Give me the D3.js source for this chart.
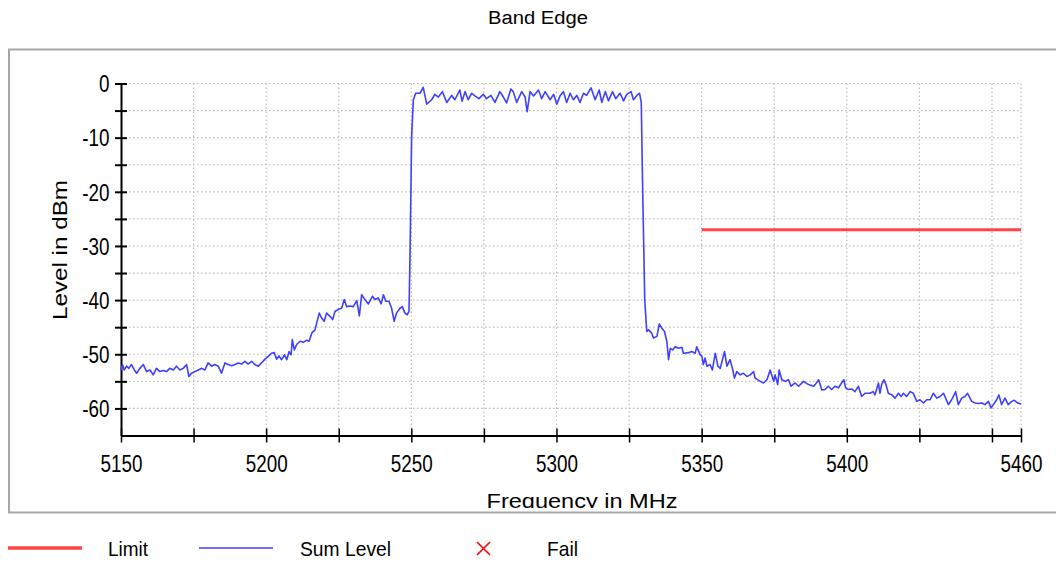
<!DOCTYPE html>
<html>
<head>
<meta charset="utf-8">
<script src="https://cdn.jsdelivr.net/npm/d3@7"></script>
<style>
  body { margin: 0; background: #fff; }
  text { font-family: "Liberation Sans", Arial, sans-serif; fill: #000; }
</style>
</head>
<body>
<div id="chart"></div>
<script>
// ---- dados ----
const xTicks = [5150, 5175, 5200, 5225, 5250, 5275, 5300, 5325, 5350, 5375, 5400, 5425, 5450, 5460];
const xLabels = [5150, 5200, 5250, 5300, 5350, 5400, 5460];
const yTicks = [0, -5, -10, -15, -20, -25, -30, -35, -40, -45, -50, -55, -60];
const yLabels = [0, -10, -20, -30, -40, -50, -60];

// limite: -27 dBm de 5350 a 5460 MHz
const limitFreq = [5350, 5460];
const limitLevel = [-27, -27];

// Sum Level [MHz, dBm] - lado baixo
const lowSide = [
  [5150.0, -52.9], [5150.5, -51.9], [5151.1, -52.9], [5151.9, -52.2], [5152.7, -52.6], [5153.6, -51.9],
  [5154.6, -52.9], [5155.4, -53.5], [5156.5, -52.6], [5157.7, -51.9], [5158.8, -53.2], [5160.0, -52.9],
  [5161.1, -53.8], [5162.2, -52.6], [5163.4, -53.2], [5164.5, -53.0], [5165.7, -53.2], [5166.8, -52.6],
  [5168.0, -52.9], [5169.1, -52.2], [5170.3, -52.9], [5171.4, -52.6], [5172.6, -51.9], [5173.4, -54.1],
  [5174.3, -53.5], [5175.5, -53.2], [5176.6, -52.9], [5177.8, -52.6], [5178.9, -52.9], [5180.0, -51.6],
  [5181.2, -52.2], [5182.3, -51.9], [5183.5, -52.2], [5184.6, -53.5], [5185.8, -51.6], [5186.9, -51.9],
  [5188.1, -52.1], [5189.2, -51.9], [5190.4, -51.6], [5191.5, -51.8], [5192.7, -51.3], [5193.8, -51.8],
  [5195.0, -51.3], [5196.1, -51.9], [5197.3, -52.2], [5198.4, -51.6], [5199.6, -50.9], [5200.7, -50.4],
  [5201.9, -49.8], [5202.8, -49.7], [5203.6, -50.9], [5204.4, -50.3], [5205.3, -51.0], [5206.3, -50.1],
  [5207.1, -51.0], [5207.9, -49.5], [5208.6, -50.1], [5209.0, -47.3], [5209.7, -49.2], [5210.5, -48.2],
  [5211.7, -47.6], [5212.8, -47.8], [5214.0, -47.4], [5214.8, -47.6], [5215.7, -46.1], [5216.8, -45.5],
  [5217.7, -43.6], [5218.3, -42.4], [5219.1, -43.3], [5220.0, -43.9], [5220.8, -42.4], [5222.0, -43.0],
  [5222.9, -43.6], [5223.7, -42.1], [5224.9, -41.7], [5226.0, -41.5], [5226.9, -39.9], [5227.7, -41.2],
  [5228.9, -41.1], [5230.0, -41.2], [5231.2, -40.1], [5232.1, -42.9], [5232.9, -39.0], [5234.0, -39.9],
  [5235.2, -40.7], [5236.6, -39.3], [5237.5, -39.9], [5238.6, -39.6], [5239.6, -40.7], [5240.4, -39.0],
  [5241.2, -40.2], [5242.3, -40.2], [5243.2, -41.5], [5244.1, -43.9], [5244.9, -42.4], [5246.1, -41.5],
  [5246.9, -41.2], [5247.8, -42.4], [5248.6, -42.7], [5249.2, -42.1]
];

// Sum Level - dentro da banda (inclui as bordas de subida e descida)
const inBand = [
  [5249.6, -30.0], [5250.1, -10.0], [5250.7, -3.0],
  [5251.5, -1.8], [5253.0, -1.8], [5254.1, -0.7], [5255.3, -3.8], [5257.0, -3.0], [5258.1, -2.0],
  [5259.3, -2.5], [5260.7, -1.5], [5262.2, -3.5], [5263.9, -2.2], [5265.0, -3.0], [5266.7, -1.2],
  [5267.5, -3.3], [5268.5, -1.5], [5269.6, -3.0], [5270.8, -1.8], [5271.9, -2.3], [5273.3, -2.8],
  [5274.8, -2.0], [5275.9, -2.8], [5277.4, -2.2], [5278.8, -3.5], [5280.5, -1.5], [5281.7, -2.5],
  [5282.8, -3.6], [5284.3, -1.0], [5285.1, -1.5], [5286.3, -3.5], [5288.0, -1.5], [5289.2, -2.5],
  [5289.9, -5.2], [5290.9, -1.5], [5292.1, -2.3], [5293.8, -1.2], [5294.9, -2.8], [5296.1, -1.5],
  [5297.8, -3.0], [5299.0, -2.0], [5300.1, -3.8], [5301.3, -2.2], [5302.4, -1.5], [5303.5, -3.5],
  [5304.7, -1.8], [5305.8, -3.0], [5307.0, -2.2], [5308.1, -3.5], [5309.3, -1.8], [5310.4, -2.2],
  [5311.9, -0.8], [5313.3, -3.0], [5314.7, -1.2], [5315.6, -3.5], [5316.8, -1.5], [5317.9, -3.2],
  [5319.3, -1.5], [5320.4, -2.8], [5321.9, -1.8], [5323.1, -3.2], [5324.2, -2.0], [5325.7, -1.5],
  [5326.5, -3.0], [5327.7, -2.2], [5328.6, -1.8], [5329.2, -3.5],
  [5329.7, -20.0], [5330.4, -40.0]
];

// Sum Level - lado alto
const highSide = [
  [5331.1, -45.8], [5331.7, -45.5], [5332.8, -46.1], [5333.4, -47.0], [5334.6, -46.7], [5335.4, -44.4],
  [5336.3, -45.2], [5337.2, -45.8], [5338.0, -47.6], [5338.6, -51.0], [5339.2, -48.9], [5340.0, -49.2],
  [5340.9, -48.6], [5342.0, -48.9], [5343.2, -48.7], [5343.7, -49.8], [5345.5, -49.7], [5346.6, -49.5],
  [5347.8, -49.8], [5348.3, -48.6], [5349.5, -50.1], [5350.1, -50.4], [5350.6, -51.9], [5351.2, -50.7],
  [5351.8, -52.2], [5352.9, -51.9], [5353.7, -52.9], [5354.7, -49.8], [5355.6, -52.2], [5356.4, -52.6],
  [5357.9, -49.5], [5358.7, -52.2], [5359.8, -51.0], [5360.6, -52.6], [5361.3, -54.4], [5362.1, -53.2],
  [5363.3, -53.8], [5364.4, -53.5], [5365.6, -54.1], [5366.7, -53.8], [5367.9, -53.2], [5368.4, -54.4],
  [5370.2, -55.0], [5371.3, -55.3], [5372.5, -54.7], [5373.6, -52.9], [5374.8, -55.0], [5375.3, -53.8],
  [5376.2, -55.6], [5376.7, -52.9], [5377.6, -54.7], [5378.8, -55.0], [5379.9, -54.7], [5380.8, -55.9],
  [5382.2, -55.3], [5383.4, -55.9], [5385.1, -55.0], [5386.8, -55.6], [5388.5, -55.9], [5389.1, -55.6],
  [5390.3, -54.7], [5391.4, -56.6], [5392.5, -56.5], [5393.6, -55.9], [5394.8, -56.5], [5395.9, -55.9],
  [5397.1, -56.2], [5398.2, -55.3], [5399.0, -54.7], [5399.6, -56.2], [5400.5, -56.5], [5401.7, -56.4],
  [5402.8, -56.9], [5404.0, -55.9], [5405.1, -57.8], [5406.3, -57.2], [5408.0, -57.2], [5409.1, -56.9],
  [5409.7, -57.5], [5410.9, -55.3], [5411.4, -57.2], [5412.0, -55.6], [5412.8, -54.7], [5413.5, -55.6],
  [5414.3, -57.2], [5415.5, -57.5], [5416.6, -58.1], [5417.8, -57.2], [5418.7, -57.8], [5419.5, -57.2],
  [5420.6, -57.8], [5421.8, -56.9], [5422.9, -57.2], [5424.1, -58.7], [5425.2, -58.4], [5426.4, -59.0],
  [5427.5, -58.4], [5428.7, -58.4], [5429.8, -57.2], [5431.0, -58.1], [5432.1, -57.8], [5433.3, -57.2],
  [5433.8, -57.8], [5435.0, -59.3], [5436.1, -58.4], [5437.5, -56.9], [5438.4, -59.3], [5439.6, -58.1],
  [5440.7, -57.8], [5441.6, -57.2], [5443.0, -58.7], [5444.2, -59.0], [5445.3, -59.1], [5446.5, -59.0],
  [5447.6, -59.3], [5448.8, -58.7], [5449.7, -59.9], [5450.5, -59.3], [5451.6, -58.4], [5452.4, -57.5],
  [5453.3, -59.3], [5454.5, -58.1], [5455.6, -59.3], [5456.8, -58.7], [5457.7, -58.5], [5458.9, -59.0],
  [5460.0, -59.2]
];

const sumLevel = lowSide.concat(inBand, highSide);

// ---- layout ----
const width = 1056, height = 563;
const margin = { left: 121, right: 35, top: 83.5, bottom: 127.5 };

const svg = d3.select('#chart')
    .append('svg')
    .attr('width', width)
    .attr('height', height);

// moldura cinza
svg.append('rect')
    .attr('x', 9).attr('y', 49.5)
    .attr('width', 1060).attr('height', 463)
    .attr('fill', 'none')
    .attr('stroke', '#a8a8a8')
    .attr('stroke-width', 2);

const x = d3.scaleLinear().domain([5150, 5460]).range([margin.left, width - margin.right]);
const y = d3.scaleLinear().domain([-65, 0]).range([height - margin.bottom, margin.top]);

// grade pontilhada
const grid = svg.append('g')
    .attr('stroke', '#bdbdbd')
    .attr('stroke-width', 1.2)
    .attr('stroke-dasharray', '1.5,2.5');

grid.selectAll('line.h')
    .data(yTicks)
    .join('line')
    .attr('class', 'h')
    .attr('x1', x(5150)).attr('x2', x(5460))
    .attr('y1', d => y(d)).attr('y2', d => y(d));

grid.selectAll('line.v')
    .data(xTicks.filter(d => d !== 5150))
    .join('line')
    .attr('class', 'v')
    .attr('x1', d => x(d)).attr('x2', d => x(d))
    .attr('y1', y(0)).attr('y2', y(-65));

// eixo x
const xAxis = svg.append('g')
    .attr('transform', `translate(0,${y(-65)})`)
    .call(d3.axisBottom(x)
        .tickValues(xTicks)
        .tickSizeOuter(0)
        .tickSizeInner(7)
        .tickFormat(d => xLabels.includes(d) ? d : ''));

xAxis.select('.domain').attr('stroke', '#000').attr('stroke-width', 2);
xAxis.selectAll('.tick line').attr('y1', -7).attr('stroke', '#000').attr('stroke-width', 1.5);
xAxis.selectAll('.tick text')
    .attr('y', 37).attr('dy', null)
    .attr('transform', 'scale(0.82,1)')
    .style('font-size', '23px')
    .style('font-family', '"Liberation Sans", Arial, sans-serif');

// eixo y
const yAxis = svg.append('g')
    .attr('transform', `translate(${x(5150)},0)`)
    .call(d3.axisLeft(y)
        .tickValues(yTicks)
        .tickSizeOuter(0)
        .tickSizeInner(6)
        .tickFormat(d => yLabels.includes(d) ? d : ''));

yAxis.select('.domain').attr('stroke', '#000').attr('stroke-width', 2);
yAxis.selectAll('.tick line').attr('x1', 6).attr('stroke', '#000').attr('stroke-width', 2);
yAxis.selectAll('.tick text')
    .attr('x', -14).attr('dy', '0.36em')
    .attr('transform', 'scale(0.82,1)')
    .style('font-size', '23px')
    .style('font-family', '"Liberation Sans", Arial, sans-serif');

// linha do limite
svg.append('path')
    .datum(limitFreq.map((f, i) => [f, limitLevel[i]]))
    .attr('fill', 'none')
    .attr('stroke', '#ff4545')
    .attr('stroke-width', 3)
    .attr('d', d3.line().x(d => x(d[0])).y(d => y(d[1])));

// traço Sum Level
svg.append('path')
    .datum(sumLevel)
    .attr('fill', 'none')
    .attr('stroke', '#3f3fff')
    .attr('stroke-width', 1.6)
    .attr('stroke-linejoin', 'round')
    .attr('d', d3.line().x(d => x(d[0])).y(d => y(d[1])));

// títulos
svg.append('text')
    .attr('x', 538).attr('y', 24)
    .attr('text-anchor', 'middle')
    .attr('textLength', 100).attr('lengthAdjust', 'spacingAndGlyphs')
    .style('font-size', '18px')
    .text('Band Edge');

svg.append('clipPath').attr('id', 'cut')
    .append('rect').attr('x', 0).attr('y', 0).attr('width', width).attr('height', 508);

svg.append('text')
    .attr('x', 582).attr('y', 508)
    .attr('clip-path', 'url(#cut)')
    .attr('text-anchor', 'middle')
    .attr('textLength', 191).attr('lengthAdjust', 'spacingAndGlyphs')
    .style('font-size', '21px')
    .text('Frequency in MHz');

svg.append('text')
    .attr('transform', 'translate(67,250) rotate(-90)')
    .attr('text-anchor', 'middle')
    .attr('textLength', 140).attr('lengthAdjust', 'spacingAndGlyphs')
    .style('font-size', '21px')
    .text('Level in dBm');

// legenda
const legend = svg.append('g');
legend.append('line')
    .attr('x1', 8).attr('x2', 82).attr('y1', 548).attr('y2', 548)
    .attr('stroke', '#ff4545').attr('stroke-width', 3.5);
legend.append('text')
    .attr('x', 108).attr('y', 556)
    .attr('textLength', 40).attr('lengthAdjust', 'spacingAndGlyphs')
    .style('font-size', '21px')
    .text('Limit');
legend.append('line')
    .attr('x1', 199).attr('x2', 273).attr('y1', 548).attr('y2', 548)
    .attr('stroke', '#3f3fff').attr('stroke-width', 1.6);
legend.append('text')
    .attr('x', 300).attr('y', 556)
    .attr('textLength', 91).attr('lengthAdjust', 'spacingAndGlyphs')
    .style('font-size', '21px')
    .text('Sum Level');
legend.append('path')
    .attr('d', 'M477,542L490,555M490,542L477,555')
    .attr('stroke', '#ff0000').attr('stroke-width', 1.6);
legend.append('text')
    .attr('x', 547).attr('y', 556)
    .attr('textLength', 31).attr('lengthAdjust', 'spacingAndGlyphs')
    .style('font-size', '21px')
    .text('Fail');
</script>
</body>
</html>
